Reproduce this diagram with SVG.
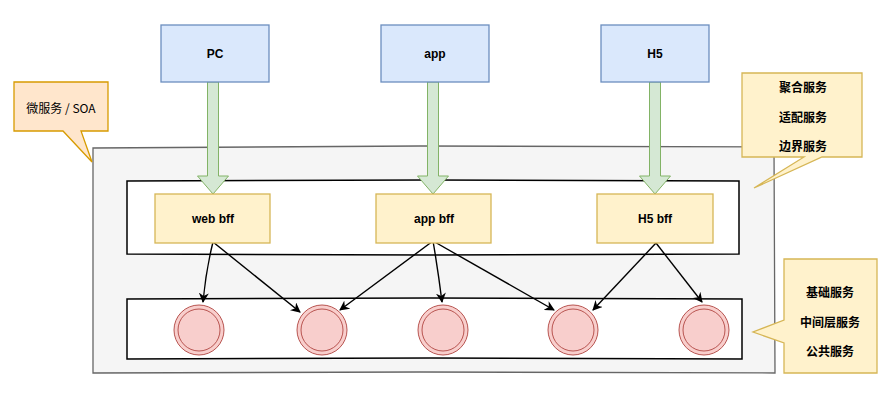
<svg xmlns="http://www.w3.org/2000/svg" width="894" height="399" viewBox="0 0 894 399">
<style>
.lbl{font-family:"Liberation Sans","Noto Sans CJK SC",sans-serif;font-size:12px;font-weight:bold;fill:#000;text-anchor:middle;dominant-baseline:central}
.cn{font-family:"Noto Sans CJK SC","Liberation Sans",sans-serif;font-size:12px;font-weight:bold;fill:#000;text-anchor:middle;dominant-baseline:central}
.cnr{font-family:"Noto Sans CJK SC","Liberation Sans",sans-serif;font-size:12px;font-weight:normal;fill:#000;text-anchor:middle;dominant-baseline:central}
.client{fill:#dae8fc;stroke:#6c8ebf;stroke-width:1.3}
.bff{fill:#fff2cc;stroke:#d6b656;stroke-width:1.3}
.svc{fill:#f8cecc;stroke:#b85450;stroke-width:1}
.flow{fill:#d5e8d4;stroke:#82b366;stroke-width:1}
.edge{fill:none;stroke:#000;stroke-width:1.4}
</style>
<defs>
<marker id="ah" viewBox="0 0 10 10" refX="9" refY="5" markerWidth="10" markerHeight="10" markerUnits="userSpaceOnUse" orient="auto">
<path d="M0,0 L10,5 L0,10 L3,5 Z" fill="#000"/>
</marker>
</defs>
<g id="outer">
<path d="M93,148 L420,146 L774,147 L775,373 L420,372 L93,373 Z" fill="#f5f5f5" stroke="#666" stroke-width="1.3"/>
</g>
<g id="bff-layer">
<path d="M127,181 L430,180 L739,181 L739,254 L430,255 L127,254 Z" fill="#fff" stroke="#000" stroke-width="1.5"/>
</g>
<g id="svc-layer">
<path d="M127,299 L430,298 L742,299 L742,359 L430,358 L127,359 Z" fill="#fff" stroke="#000" stroke-width="1.5"/>
</g>
<g id="callout-soa">
<path d="M14,82 L108,82 L108,131 L81,131 L92,162 L63,131 L14,131 Z" fill="#ffe6cc" stroke="#d79b00" stroke-width="1.3"/>
<text class="cnr" x="61" y="107">微服务 / SOA</text>
</g>
<g id="callout-bff">
<path d="M742,73 L862,73 L862,157 L822,157 L754,188 L804,157 L742,157 Z" fill="#fff2cc" stroke="#d6b656" stroke-width="1.3"/>
<text class="cn" x="803" y="86">聚合服务</text>
<text class="cn" x="803" y="116">适配服务</text>
<text class="cn" x="803" y="145">边界服务</text>
</g>
<g id="callout-svc">
<path d="M784,259 L877,259 L877,373 L784,373 L784,343 L753,332 L784,320 Z" fill="#fff2cc" stroke="#d6b656" stroke-width="1.3"/>
<text class="cn" x="830" y="291">基础服务</text>
<text class="cn" x="830" y="321">中间层服务</text>
<text class="cn" x="830" y="350">公共服务</text>
</g>
<g id="connectors">
<path class="flow" d="M207.5,82 L218.5,82 L218.5,176 L228.5,176 L213,194 L197.5,176 L207.5,176 Z"/>
<path class="flow" d="M427.5,82 L438.5,82 L438.5,176 L448.5,176 L433,194 L417.5,176 L427.5,176 Z"/>
<path class="flow" d="M649.5,82 L660.5,82 L660.5,176 L670.5,176 L655,194 L639.5,176 L649.5,176 Z"/>
<path class="edge" d="M213,242 Q206,270 203,302" marker-end="url(#ah)"/>
<path class="edge" d="M213,242 L300,312" marker-end="url(#ah)"/>
<path class="edge" d="M433,241 L340,310" marker-end="url(#ah)"/>
<path class="edge" d="M433,241 Q438,270 442,302" marker-end="url(#ah)"/>
<path class="edge" d="M433,241 L554,310" marker-end="url(#ah)"/>
<path class="edge" d="M656,243 L593,310" marker-end="url(#ah)"/>
<path class="edge" d="M656,243 L702,302" marker-end="url(#ah)"/>
</g>
<g id="pc">
<rect class="client" x="161" y="25" width="108" height="57"/>
<text class="lbl" x="215" y="54">PC</text>
</g>
<g id="app">
<rect class="client" x="381" y="25" width="108" height="57"/>
<text class="lbl" x="435" y="54">app</text>
</g>
<g id="h5">
<rect class="client" x="601" y="25" width="108" height="57"/>
<text class="lbl" x="655" y="54">H5</text>
</g>
<g id="web-bff">
<rect class="bff" x="155" y="194" width="115" height="49"/>
<text class="lbl" x="213" y="219">web bff</text>
</g>
<g id="app-bff">
<rect class="bff" x="376" y="194" width="115" height="49"/>
<text class="lbl" x="434" y="219">app bff</text>
</g>
<g id="h5-bff">
<rect class="bff" x="597" y="194" width="116" height="49"/>
<text class="lbl" x="655" y="219">H5 bff</text>
</g>
<g id="svc1"><circle class="svc" cx="199" cy="330" r="25"/><circle cx="199" cy="330" r="21" fill="none" stroke="#b85450"/></g>
<g id="svc2"><circle class="svc" cx="322" cy="330" r="25"/><circle cx="322" cy="330" r="21" fill="none" stroke="#b85450"/></g>
<g id="svc3"><circle class="svc" cx="443" cy="330" r="25"/><circle cx="443" cy="330" r="21" fill="none" stroke="#b85450"/></g>
<g id="svc4"><circle class="svc" cx="573" cy="330" r="25"/><circle cx="573" cy="330" r="21" fill="none" stroke="#b85450"/></g>
<g id="svc5"><circle class="svc" cx="704" cy="330" r="25"/><circle cx="704" cy="330" r="21" fill="none" stroke="#b85450"/></g>
</svg>
